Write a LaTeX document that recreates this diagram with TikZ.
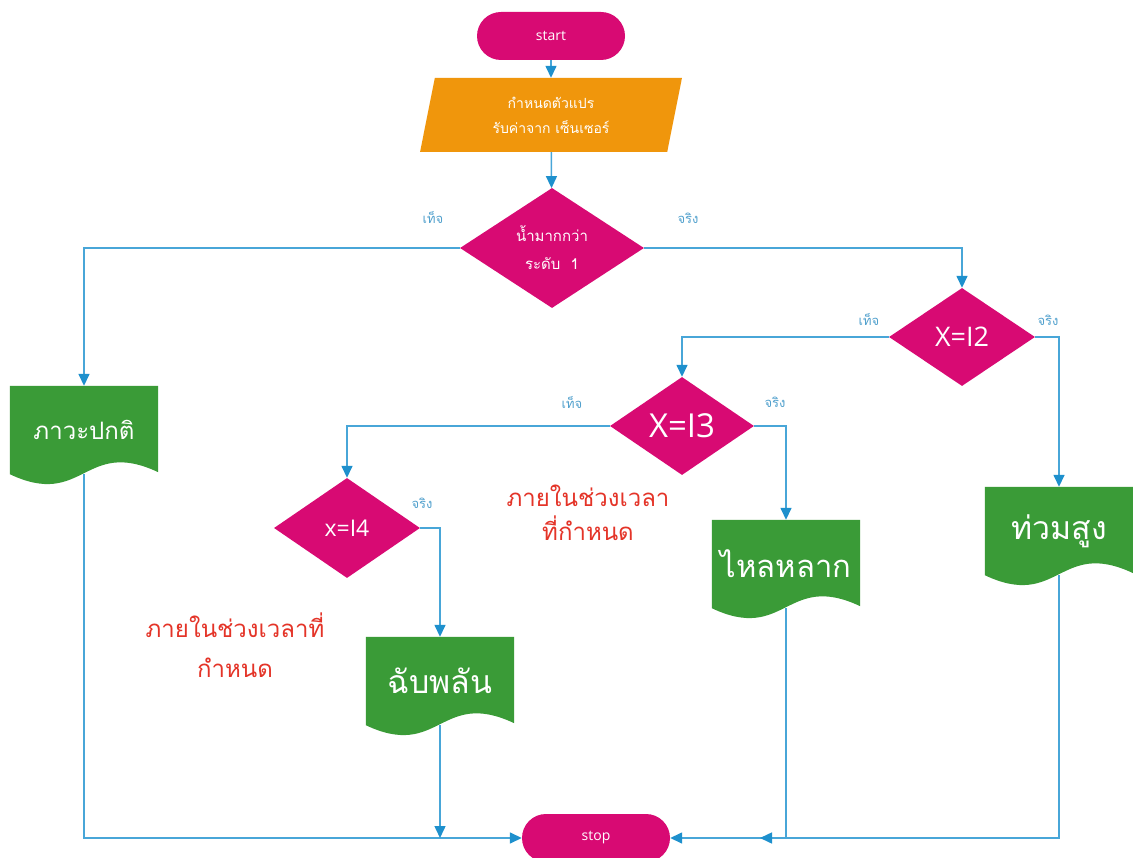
\documentclass[tikz,border=0pt]{standalone}
\usepackage{fontspec}
\newfontfamily\thai[Script=Thai]{Loma}
\newfontfamily\latin{Open Sans}
\usetikzlibrary{arrows.meta,shapes.geometric,backgrounds,calc}
\definecolor{mag}{RGB}{216,10,115}
\definecolor{orng}{RGB}{240,150,12}
\definecolor{dgreen}{RGB}{58,155,55}
\definecolor{lineblue}{RGB}{72,166,216}
\definecolor{tipblue}{RGB}{30,144,205}
\definecolor{lblblue}{RGB}{80,160,205}
\definecolor{redtxt}{RGB}{228,52,40}
\newcommand\fs[2]{\fontsize{#1}{#2}\selectfont}
\newcommand\docbg[1]{%
  \begin{scope}[on background layer]
    \fill[dgreen] (#1.north west) -- (#1.north east) -- ($(#1.south east)+(0,-2)$)
      .. controls +(-74,-35) and +(74,35) .. (#1.south west) -- cycle;
  \end{scope}}
\begin{document}
\begin{tikzpicture}[x=1pt,y=-1pt,
  term/.style={rectangle, rounded corners=24pt, fill=mag, minimum width=148pt,
    minimum height=48pt, inner sep=0pt, text=white, font=\latin\fs{14}{16}},
  para/.style={trapezium, trapezium left angle=78.5, trapezium right angle=101.5,
    trapezium stretches=true, fill=orng, minimum width=262pt, minimum height=74pt,
    inner sep=0pt, text=white, align=center, font=\thai\fs{14}{25}},
  dia/.style={diamond, fill=mag, inner sep=0pt, shape aspect=1.5, text=white, align=center},
  docn/.style={rectangle, minimum width=148pt, minimum height=88pt, inner sep=0pt,
    text=white, font=\thai\fs{#1}{#1}},
  conn/.style={draw=lineblue, line width=1.5pt, -{Triangle[length=12pt,width=11pt,color=tipblue]}},
  lbl/.style={text=lblblue, font=\thai\fs{13}{15}, inner sep=0pt},
  note/.style={text=redtxt, align=center, inner sep=0pt, font=\thai\fs{24}{#1}}
]
\begin{scope}[on background layer]
  \fill[white] (0,0) rectangle (1133,858);
\end{scope}
\useasboundingbox (0,0) rectangle (1133,858);

% terminals
\node[term] (start) at (551,36) {start};
\node[term] (stop) at (596,838) {stop};

% input
\node[para] (inp) at (551,115) {กำหนดตัวแปร\\รับค่าจาก เซ็นเซอร์};

% decisions
\node[dia, minimum width=184pt, minimum height=120pt, font=\thai\fs{15}{28}] (d1) at (552,248) {น้ำมากกว่า\\ระดับ~~1};
\node[dia, minimum width=146pt, minimum height=98pt, font=\latin\fs{27}{30}] (d2) at (962,337) {X=I2};
\node[dia, minimum width=144pt, minimum height=98pt, font=\latin\fs{33}{36}] (d3) at (682,426) {X=I3};
\node[dia, minimum width=146pt, minimum height=100pt, font=\latin\fs{23}{26}] (d4) at (347,528) {x=I4};

% documents
\node[docn=24] (doc1) at (84,430) {ภาวะปกติ};
\node[docn=32] (doc2) at (440,681) {ฉับพลัน};
\node[docn=31] (doc3) at (786,564) {ไหลหลาก};
\node[docn=32] (doc4) at (1059,531) {ท่วมสูง};
\docbg{doc1}\docbg{doc2}\docbg{doc3}\docbg{doc4}

% branch labels
\node[lbl] (f1) at (433,218) {เท็จ};
\node[lbl] (t1) at (688,218) {จริง};
\node[lbl] (f2) at (869,320) {เท็จ};
\node[lbl] (t2) at (1048,320) {จริง};
\node[lbl] (f3) at (572,403) {เท็จ};
\node[lbl] (t3) at (775,402) {จริง};
\node[lbl] (t4) at (422,503) {จริง};

% notes
\node[note=34] (r1) at (588,513) {ภายในช่วงเวลา\\ที่กำหนด};
\node[note=40] (r2) at (235,645) {ภายในช่วงเวลาที่\\กำหนด};

% connectors
\draw[conn] (start) -- (inp);
\draw[conn] (inp) -- (d1);
\draw[conn] (d1.west) -| (doc1.north);
\draw[conn] (d1.east) -| (d2.north);
\draw[conn] (d2.west) -| (d3.north);
\draw[conn] (d2.east) -| (doc4.north);
\draw[conn] (d3.west) -| (d4.north);
\draw[conn] (d3.east) -| (doc3.north);
\draw[conn] (d4.east) -| (doc2.north);
\coordinate (j3) at (760,838);
\draw[conn] (doc1.south) |- (stop.west);
\draw[conn] (doc2.south) -- (doc2.south |- stop.west);
\draw[conn] (doc4.south) |- (stop.east);
\draw[conn] (doc3.south) |- (j3);
\end{tikzpicture}
\end{document}
